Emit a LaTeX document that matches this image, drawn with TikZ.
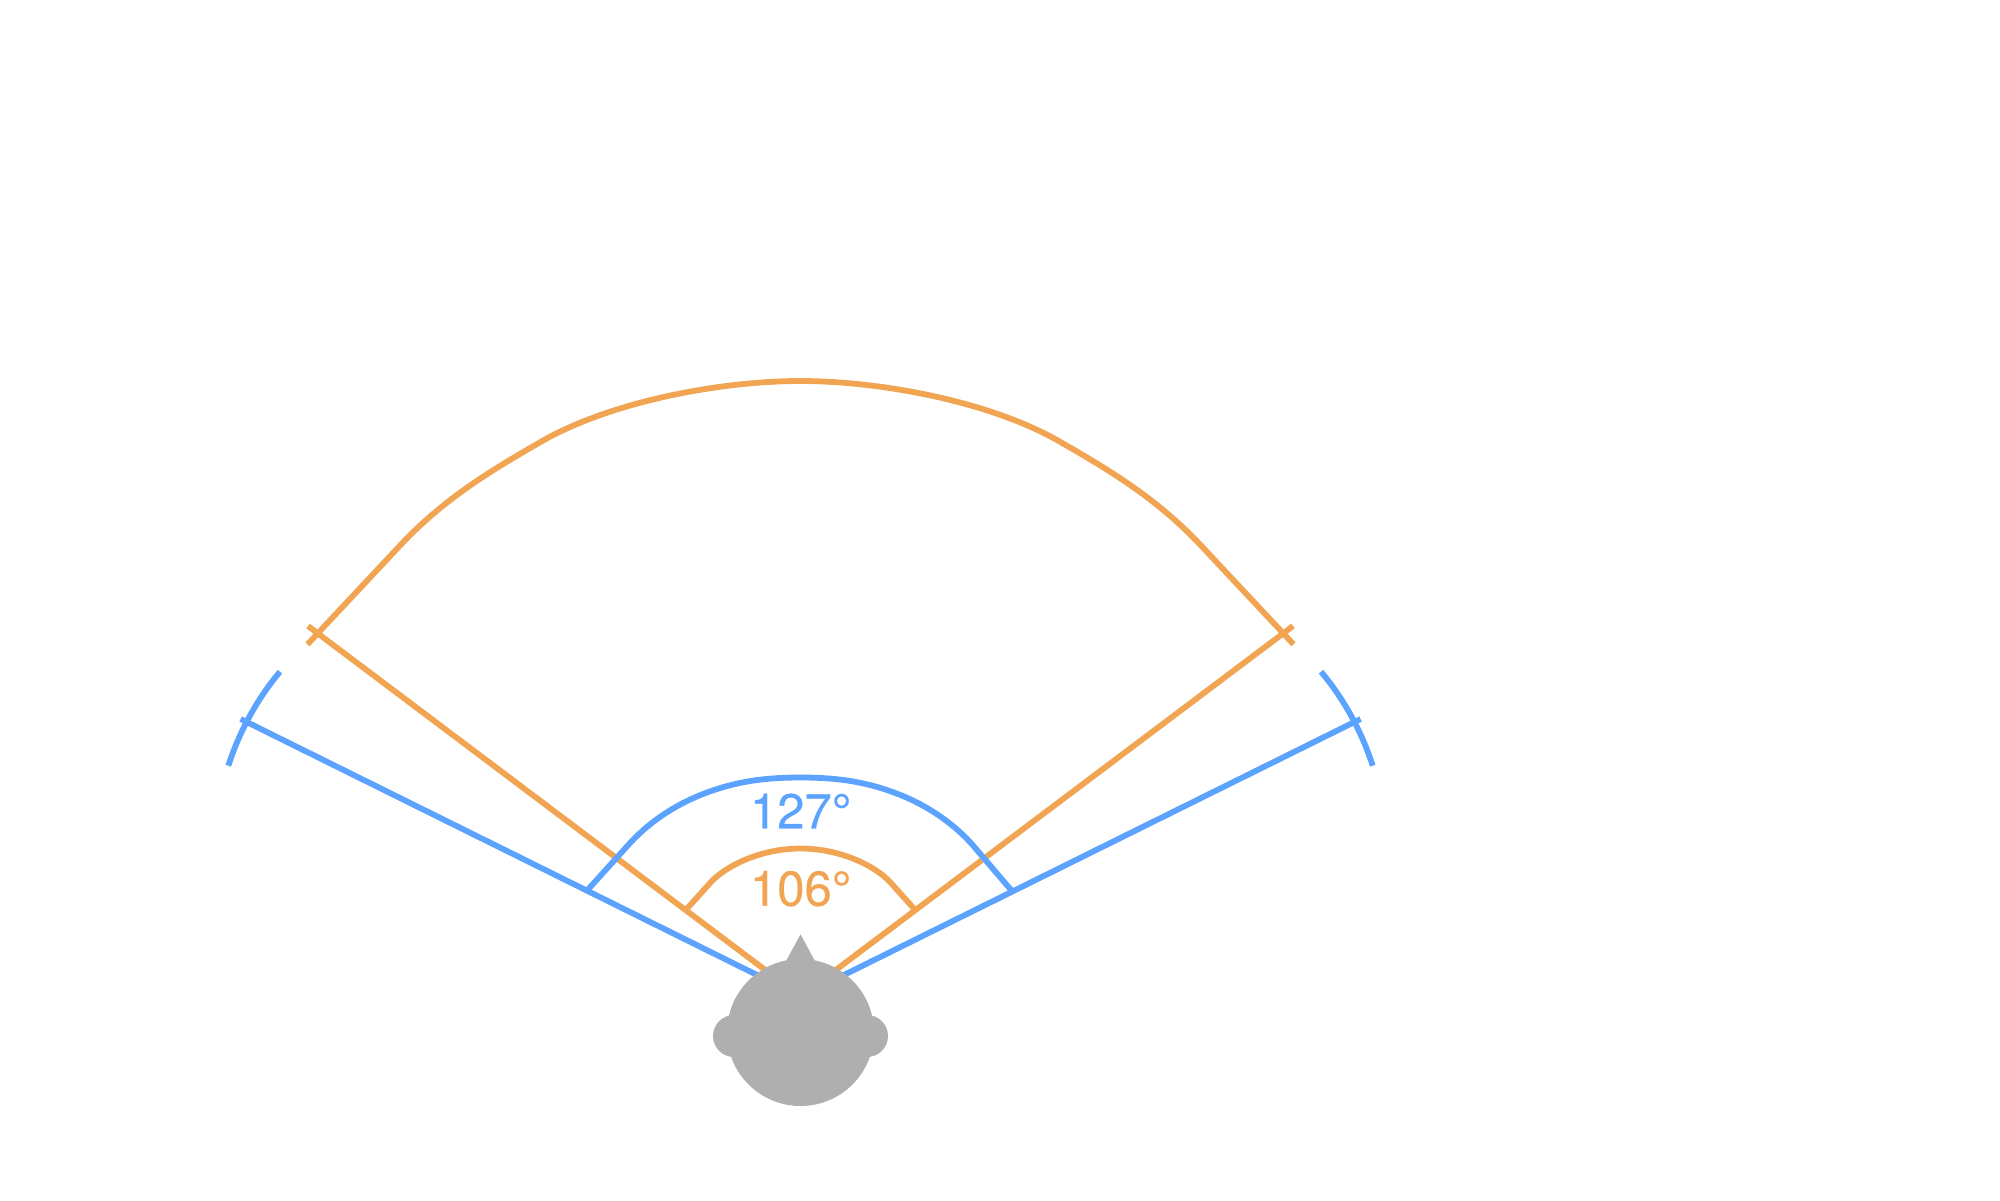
\documentclass[tikz,border=0pt]{standalone}
\usepackage{fontspec}
\setmainfont[FakeBold=0.5]{TeX Gyre Heros}
\definecolor{bluecol}{RGB}{91,163,255}
\definecolor{orangecol}{RGB}{241,165,83}
\definecolor{headcol}{RGB}{175,175,175}
\tikzset{
  bluepen/.style={draw=bluecol,line width=2.9pt},
  orangepen/.style={draw=orangecol,line width=2.9pt},
  degree/.style={font=\fontsize{24.5pt}{24.5pt}\selectfont,inner sep=0pt,anchor=base},
}
\begin{document}
\begin{tikzpicture}[x=0.5pt,y=-0.5pt]
\useasboundingbox (0,0) rectangle (2000,1200);
\coordinate (o) at (800.5,996.5);
\coordinate (bl) at (240.7,719);
\coordinate (br) at (1360.5,719);
\coordinate (ol) at (308,626);
\coordinate (or) at (1293,626);
% radial lines
\draw[bluepen] (o) -- (bl);
\draw[bluepen] (o) -- (br);
\draw[orangepen] (o) -- (ol);
\draw[orangepen] (o) -- (or);
\begin{scope}[shift={(800.5,0)}]
% outer orange
\draw[orangepen] (-493,644.3) -- (-400,545) .. controls (-355,497) and (-305,468) .. (-260,442)
  .. controls (-190,401.4) and (-80,381) .. (0,381)
  .. controls (80,381) and (190,401.4) .. (260,442)
  .. controls (305,468) and (355,497) .. (400,545) -- (493,644.3);
% inner blue
\draw[bluepen] (-213,890) -- (-170,842.5) .. controls (-150,821) and (-125,805) .. (-100,795)
  .. controls (-65,781) and (-35,777.5) .. (0,777.5)
  .. controls (35,777.5) and (65,781) .. (100,795)
  .. controls (125,805) and (150,821) .. (170,842.5) -- (211,890.5);
% inner orange
\draw[orangepen] (-113.2,908.3) -- (-90,882.5) .. controls (-75,866) and (-40,848.5) .. (0,848.5)
  .. controls (40,848.5) and (75,866) .. (90,882.5) -- (113.2,908.3);
% outer blue stubs
\draw[bluepen] (-520.5,671.7) .. controls (-541,696) and (-560,728) .. (-572.2,765.7);
\draw[bluepen] (520.5,671.7) .. controls (541,696) and (560,728) .. (572.2,765.7);
\end{scope}
% head
\fill[headcol] (800.5,1032.5) circle (73.5);
\fill[headcol] (734,1036) circle (21);
\fill[headcol] (867,1036) circle (21);
\fill[headcol] (800.5,934.3) -- (815.5,962) -- (785.5,962) -- cycle;
% labels
\node[degree,text=bluecol] (lb) at (800.7,828.3) {127°};
\node[degree,text=orangecol] (lo) at (800.7,905.7) {106°};
\end{tikzpicture}
\end{document}
